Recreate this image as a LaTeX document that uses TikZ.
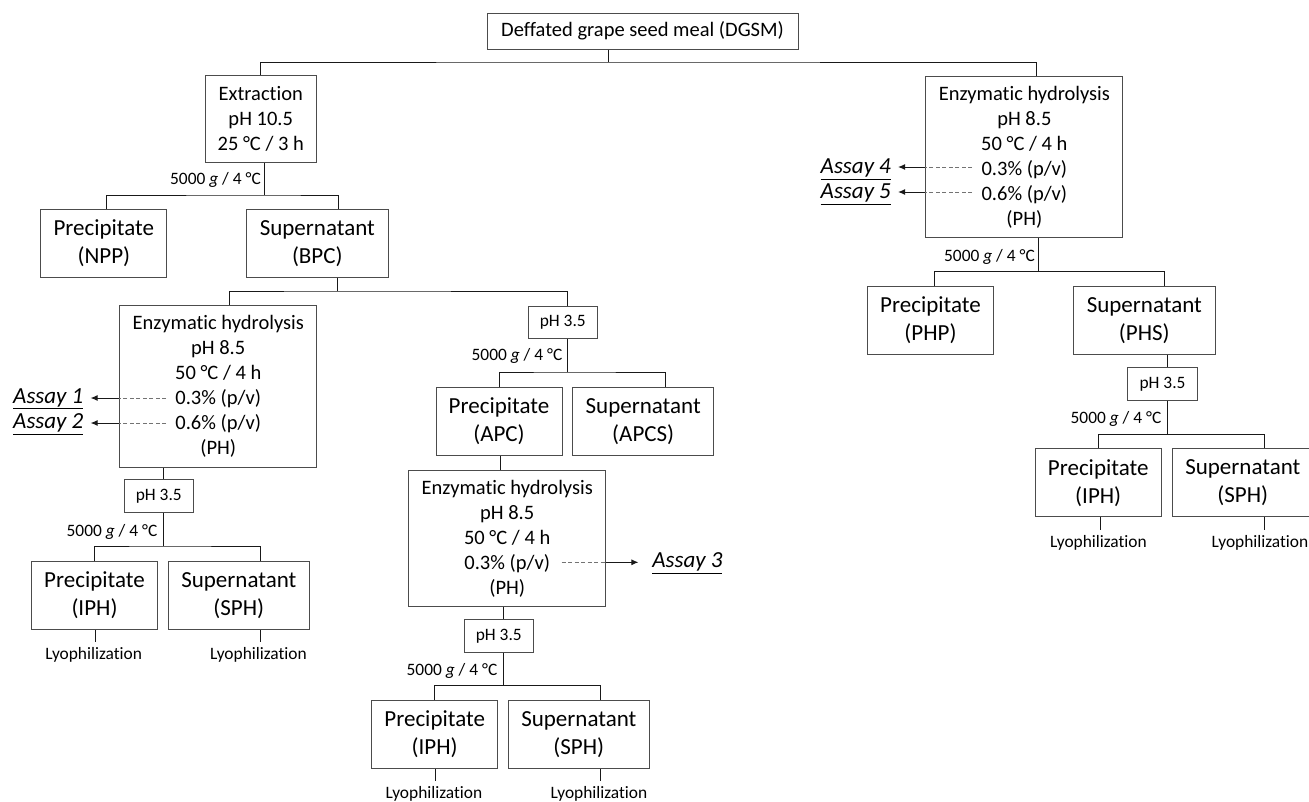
\documentclass[tikz,border=0pt]{standalone}
\usepackage{fontspec}
\setmainfont{Carlito}[Ligatures={NoCommon,NoRequired,NoContextual}, RawFeature={-liga;-clig}]
\usetikzlibrary{arrows.meta}

\begin{document}
\begin{tikzpicture}[x=1pt, y=-1pt,
    box/.style={draw=black!70, line width=1pt, align=center, inner sep=0pt},
    medbox/.style={box, font=\fontsize{20.5}{25}\selectfont},
    bigbox/.style={box, font=\fontsize{23}{28}\selectfont, minimum height=68pt},
    precbox/.style={bigbox, minimum width=126pt},
    supbox/.style={bigbox, minimum width=141.5pt},
    hydbox/.style={medbox, minimum width=197pt},
    phbox/.style={box, font=\fontsize{17.4}{21}\selectfont, minimum width=69.5pt, minimum height=32.5pt},
    cflabel/.style={font=\fontsize{17.4}{21}\selectfont, anchor=east, inner sep=0pt},
    lyo/.style={font=\fontsize{17.4}{21}\selectfont, inner xsep=0pt, inner ysep=5pt},
    assay/.style={font=\fontsize{23}{28}\selectfont\itshape, inner xsep=7pt, inner ysep=1pt},
    link/.style={line width=1pt, black!90},
    dashln/.style={line width=0.9pt, black!55, dash pattern=on 4pt off 2.5pt},
    asline/.style={line width=1pt, black!90, -{Latex[length=7pt,width=6pt]}},
  ]
  \useasboundingbox (0,0) rectangle (1309,801);

  % starting material
  \node[medbox, minimum width=311pt, minimum height=36pt] (dgsm) at (642.5,31) {Deffated grape seed meal (DGSM)};

  % left branch: alkaline extraction
  \node[medbox, minimum width=111.5pt, minimum height=87pt] (ext) at (260.75,118.5) {Extraction\\pH 10.5\\25 °C / 3 h};
  \node[precbox] (npp) at (103.85,243.35) {Precipitate\\(NPP)};
  \node[supbox] (bpc) at (317.3,243.35) {Supernatant\\(BPC)};

  % hydrolysis of BPC
  \node[hydbox, minimum height=161.6pt] (eh1) at (218.25,386.5) {Enzymatic hydrolysis\\pH 8.5\\50 °C / 4 h\\0.3\% (p/v)\\0.6\% (p/v)\\(PH)};
  \node[phbox] (ph1) at (158.8,496.2) {pH 3.5};
  \node[precbox] (iph1) at (94.5,595.5) {Precipitate\\(IPH)};
  \node[supbox] (sph1) at (238.8,595.5) {Supernatant\\(SPH)};
  \node[lyo] (ly1) at (93.7,655) {Lyophilization};
  \node[lyo] (ly2) at (258.5,655) {Lyophilization};

  % acid precipitation of BPC
  \node[phbox] (ph2) at (562.8,322.5) {pH 3.5};
  \node[precbox] (apc) at (499,421.3) {Precipitate\\(APC)};
  \node[supbox] (apcs) at (643.2,421.3) {Supernatant\\(APCS)};
  \node[hydbox, minimum height=136.7pt] (eh2) at (507.2,538.35) {Enzymatic hydrolysis\\pH 8.5\\50 °C / 4 h\\0.3\% (p/v)\\(PH)};
  \node[phbox] (ph3) at (498.8,635.8) {pH 3.5};
  \node[precbox] (iph2) at (434.7,734.5) {Precipitate\\(IPH)};
  \node[supbox] (sph2) at (578.8,734.5) {Supernatant\\(SPH)};
  \node[lyo] (ly3) at (434,794) {Lyophilization};
  \node[lyo] (ly4) at (599,794) {Lyophilization};

  % right branch: direct hydrolysis
  \node[hydbox, minimum height=161.4pt] (eh3) at (1024.35,157) {Enzymatic hydrolysis\\pH 8.5\\50 °C / 4 h\\0.3\% (p/v)\\0.6\% (p/v)\\(PH)};
  \node[precbox] (php) at (930.5,320.15) {Precipitate\\(PHP)};
  \node[supbox] (phs) at (1144.3,320.15) {Supernatant\\(PHS)};
  \node[phbox] (ph4) at (1162.5,383.85) {pH 3.5};
  \node[precbox] (iph3) at (1098.2,482.7) {Precipitate\\(IPH)};
  \node[supbox] (sph3) at (1242.8,482.7) {Supernatant\\(SPH)};
  \node[lyo] (ly5) at (1098.5,542.7) {Lyophilization};
  \node[lyo] (ly6) at (1260,542.7) {Lyophilization};

  % centrifugation labels
  \node[cflabel] (cf1) at (261,180) {5000 \textit{g} / 4 °C};
  \node[cflabel] (cf2) at (157.5,532) {5000 \textit{g} / 4 °C};
  \node[cflabel] (cf3) at (562.5,356) {5000 \textit{g} / 4 °C};
  \node[cflabel] (cf4) at (497.5,671) {5000 \textit{g} / 4 °C};
  \node[cflabel] (cf5) at (1035,257) {5000 \textit{g} / 4 °C};
  \node[cflabel] (cf6) at (1161.5,418.5) {5000 \textit{g} / 4 °C};

  % assays
  \node[assay] (as1) at (48.3,399) {\underline{Assay 1}};
  \node[assay] (as2) at (48.3,424) {\underline{Assay 2}};
  \node[assay] (as3) at (687.4,563) {\underline{Assay 3}};
  \node[assay] (as4) at (855.8,169.3) {\underline{Assay 4}};
  \node[assay] (as5) at (855.8,194.3) {\underline{Assay 5}};

  % tree junctions
  \coordinate (jtop) at (608,62);
  \coordinate (jext) at (264,195);
  \coordinate (jbpc) at (337,291);
  \coordinate (jph1) at (163,546);
  \coordinate (jph2) at (567,372);
  \coordinate (jph3) at (503.3,685);
  \coordinate (jeh3) at (1038,271.7);
  \coordinate (jph4) at (1167,434.3);

  \draw[link] (dgsm.south -| jtop) -- (jtop);
  \draw[link] (ext.north) |- (jtop) -| ([xshift=12.6pt]eh3.north);

  \draw[link] (ext.south -| jext) -- (jext);
  \draw[link] ([xshift=2.6pt]npp.north) |- (jext) -| ([xshift=20.7pt]bpc.north);

  \draw[link] (bpc.south -| jbpc) -- (jbpc);
  \draw[link] ([xshift=10.75pt]eh1.north) |- (jbpc) -| (ph2.north -| jph2);

  \draw[link] (eh1.south -| jph1) -- (ph1.north -| jph1);
  \draw[link] (ph1.south -| jph1) -- (jph1);
  \draw[link] (iph1.north) |- (jph1) -| ([xshift=21.7pt]sph1.north);
  \draw[link] ([xshift=0.5pt]iph1.south) -- ([xshift=0.5pt]iph1.south |- ly1.north);
  \draw[link] ([xshift=21.7pt]sph1.south) -- ([xshift=21.7pt]sph1.south |- ly2.north);

  \draw[link] (ph2.south -| jph2) -- (jph2);
  \draw[link] (apc.north) |- (jph2) -| ([xshift=22.4pt]apcs.north);
  \draw[link] ([xshift=1.4pt]apc.south) -- ([xshift=1.4pt]apc.south |- eh2.north);
  \draw[link] (eh2.south -| jph3) -- (ph3.north -| jph3);
  \draw[link] (ph3.south -| jph3) -- (jph3);
  \draw[link] (iph2.north) |- (jph3) -| ([xshift=21.9pt]sph2.north);
  \draw[link] ([xshift=0.6pt]iph2.south) -- ([xshift=0.6pt]iph2.south |- ly3.north);
  \draw[link] ([xshift=21.9pt]sph2.south) -- ([xshift=21.9pt]sph2.south |- ly4.north);

  \draw[link] (eh3.south -| jeh3) -- (jeh3);
  \draw[link] ([xshift=3.5pt]php.north) |- (jeh3) -| ([xshift=20.4pt]phs.north);
  \draw[link] (phs.south -| jph4) -- (ph4.north -| jph4);
  \draw[link] (ph4.south -| jph4) -- (jph4);
  \draw[link] (iph3.north) |- (jph4) -| ([xshift=21.7pt]sph3.north);
  \draw[link] ([xshift=2pt]iph3.south) -- ([xshift=2pt]iph3.south |- ly5.north);
  \draw[link] ([xshift=21.7pt]sph3.south) -- ([xshift=21.7pt]sph3.south |- ly6.north);

  % dashed leads to the assays
  \coordinate (d1) at (166,398);
  \coordinate (d2) at (166,423);
  \coordinate (d3) at (561.7,562.3);
  \coordinate (d4) at (972,167);
  \coordinate (d5) at (972,192);
  \draw[dashln] (d1) -- (d1 -| eh1.west);
  \draw[asline] (d1 -| eh1.west) -- (d1 -| as1.east);
  \draw[dashln] (d2) -- (d2 -| eh1.west);
  \draw[asline] (d2 -| eh1.west) -- (d2 -| as2.east);
  \draw[dashln] (d3) -- (d3 -| eh2.east);
  \draw[asline, shorten >=6.7pt] (d3 -| eh2.east) -- (d3 -| as3.west);
  \draw[dashln] (d4) -- (d4 -| eh3.west);
  \draw[asline] (d4 -| eh3.west) -- (d4 -| as4.east);
  \draw[dashln] (d5) -- (d5 -| eh3.west);
  \draw[asline] (d5 -| eh3.west) -- (d5 -| as5.east);
\end{tikzpicture}
\end{document}
